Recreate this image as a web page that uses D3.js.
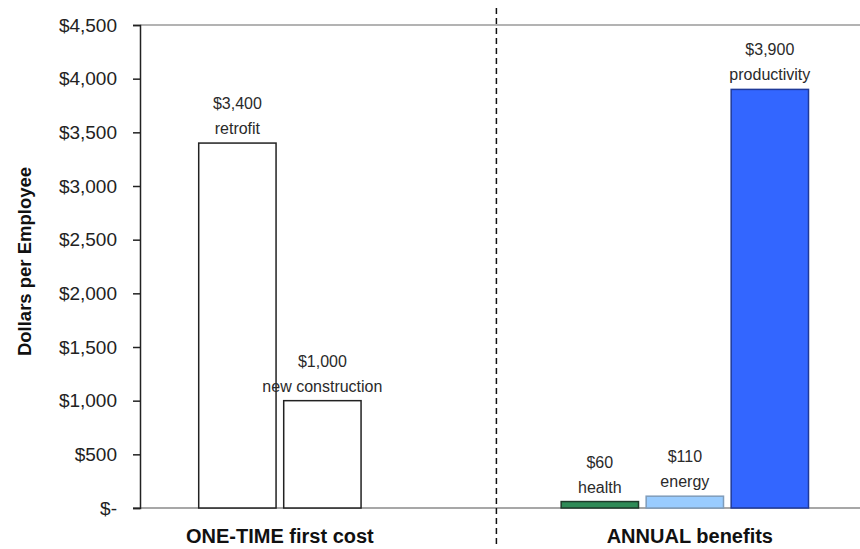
<!DOCTYPE html>
<html lang="en">
<head>
<meta charset="utf-8">
<style>
  body { margin: 0; background: white; }
  svg { font-family: "Liberation Sans", Arial, sans-serif; }
  .tick text { fill: #222; font-size: 19px; }
  .value-label { fill: #2a2a2a; font-size: 16px; text-anchor: middle; }
  .group-label { fill: #111; font-size: 20px; font-weight: bold; text-anchor: middle; }
  .y-title { fill: #111; font-size: 18.5px; font-weight: bold; text-anchor: middle; }
</style>
</head>
<body>
<svg width="860" height="549"></svg>
<script src="https://cdnjs.cloudflare.com/ajax/libs/d3/7.8.5/d3.min.js"></script>
<script>
// data
const groups = ["ONE-TIME first cost", "ANNUAL benefits"]
const barNames = [["retrofit", "new construction"], ["health", "energy", "productivity"]]
const barValues = [[3400, 1000], [60, 110, 3900]]
const barFills = [["#ffffff", "#ffffff"], ["#2e8b57", "#99ccff", "#3366ff"]]
const barStrokes = [["#222222", "#222222"], ["#1e3a2a", "#7f9cba", "#1f3a99"]]
const yTicks = [0, 500, 1000, 1500, 2000, 2500, 3000, 3500, 4000, 4500]

// basic set up
const width = 860
const height = 549
const margin = { top: 25, bottom: 41, left: 140, right: 0 }
const barStep = 85

const svg = d3.select("svg")

const y = d3.scaleLinear()
  .domain([0, 4500])
  .range([height - margin.bottom, margin.top])

const xGroup = d3.scalePoint()
  .domain(groups)
  .range([margin.left, width - margin.right])
  .padding(0.389)
  .align(0.444)

const fmt = d3.format("$,")

// frame lines
svg.append("line")
  .attr("x1", margin.left).attr("x2", width)
  .attr("y1", y(4500)).attr("y2", y(4500))
  .attr("stroke", "#9a9a9a").attr("stroke-width", 1.5)

svg.append("line")
  .attr("x1", margin.left - 7).attr("x2", width)
  .attr("y1", y(0)).attr("y2", y(0))
  .attr("stroke", "#8a8a8a").attr("stroke-width", 1.5)

// y axis
const yAxis = d3.axisLeft(y)
  .tickValues(yTicks)
  .tickSize(7)
  .tickPadding(16)
  .tickFormat(d => d === 0 ? "$-" : fmt(d))

svg.append("g")
  .attr("class", "axis-y")
  .attr("transform", `translate(${margin.left},0)`)
  .call(yAxis)
  .call(g => g.select(".domain").attr("stroke", "#222").attr("stroke-width", 1.5))
  .call(g => g.selectAll(".tick line").attr("stroke", "#222").attr("stroke-width", 1.5))
  .call(g => g.selectAll(".tick text").attr("font-family", null).attr("font-size", null))

// divider between groups
const plotW = width - margin.left - margin.right
svg.append("line")
  .attr("x1", margin.left + plotW * 0.495).attr("x2", margin.left + plotW * 0.495)
  .attr("y1", 8).attr("y2", height - 3)
  .attr("stroke", "#111").attr("stroke-width", 1.5)
  .attr("stroke-dasharray", "6,4")

// bars
groups.forEach((grp, gi) => {
  const names = barNames[gi]
  const cx = xGroup(grp)
  const inner = d3.scaleBand()
    .domain(names)
    .range([cx - names.length * barStep / 2, cx + names.length * barStep / 2])
    .paddingInner(0.09)
    .paddingOuter(0.045)

  const rows = names.map((n, i) => ({ name: n, value: barValues[gi][i], fill: barFills[gi][i], stroke: barStrokes[gi][i] }))

  const g = svg.append("g").attr("class", "group")

  g.selectAll("rect")
    .data(rows)
    .join("rect")
    .attr("x", d => inner(d.name))
    .attr("width", inner.bandwidth())
    .attr("y", d => y(d.value))
    .attr("height", d => y(0) - y(d.value))
    .attr("fill", d => d.fill)
    .attr("stroke", d => d.stroke)
    .attr("stroke-width", 1.5)

  g.selectAll("text.value")
    .data(rows)
    .join("text")
    .attr("class", "value-label value")
    .attr("x", d => inner(d.name) + inner.bandwidth() / 2)
    .attr("y", d => y(d.value) - 34)
    .text(d => fmt(d.value))

  g.selectAll("text.name")
    .data(rows)
    .join("text")
    .attr("class", "value-label name")
    .attr("x", d => inner(d.name) + inner.bandwidth() / 2)
    .attr("y", d => y(d.value) - 9)
    .text(d => d.name)

  svg.append("text")
    .attr("class", "group-label")
    .attr("x", cx + (gi === 0 ? 0 : 5))
    .attr("y", height - 6)
    .text(grp)
})

// y title
svg.append("text")
  .attr("class", "y-title")
  .attr("transform", `translate(31,${(y(0) + y(4500)) / 2 - 5}) rotate(-90)`)
  .text("Dollars per Employee")
</script>
</body>
</html>
